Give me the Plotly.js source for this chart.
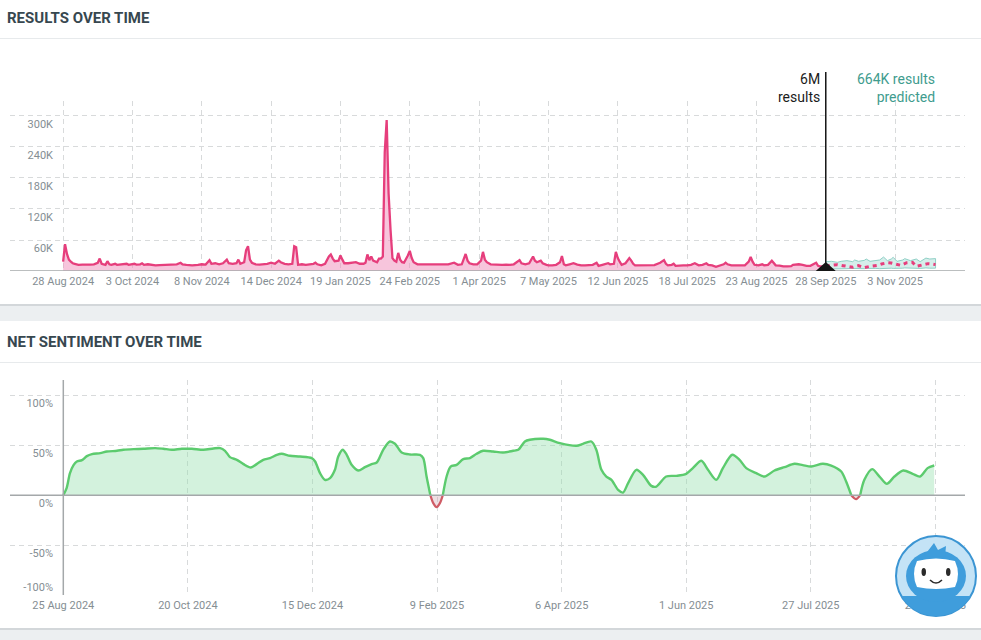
<!DOCTYPE html>
<html><head><meta charset="utf-8">
<script src="https://cdn.plot.ly/plotly-3.0.1.min.js"></script>
<style>html,body{margin:0;padding:0;background:#eceff1;} #chart{width:981px;height:640px;}</style>
</head><body><div id="chart"></div>
<script>
// ---------- DATA ----------
const resultsStart = '2024-08-28';
const resultsDays = [0,1,2,3,4,5,6,8,10,12,14,16,18,19,20,21,22,23,24,25,27,28,30,33,34,37,38,40,41,42,44,46,48,50,53,56,59,61,62,64,67,70,72,74,76,77,79,81,83,85,86,88,90,91,92,94,95,96,97,98,100,102,104,106,108,110,112,113,115,117,119,120,121,122,124,126,128,130,131,132,134,136,138,139,140,141,143,144,145,146,148,150,152,154,156,157,158,159,160,161,162,163,164,165,166,167,168,169,170,171,172,173,174,175,176,177,179,180,181,182,184,186,188,190,192,194,196,198,200,203,205,207,209,210,211,213,215,217,218,219,220,222,224,226,228,230,232,234,237,238,240,242,244,245,246,248,249,251,252,254,256,258,259,260,261,263,265,267,269,271,273,275,277,278,280,282,283,284,286,287,288,289,290,292,294,295,296,297,299,301,303,305,307,310,312,313,314,316,317,318,320,322,324,326,328,330,332,334,335,337,339,341,343,344,345,347,350,352,354,356,357,358,359,361,363,364,366,368,369,370,372,374,376,378,379,380,382,384,386,388,390,391,392,393,395,396];
const resultsK = [18,52,33,22,18,15,14,12,12.5,12,12.5,13,16,24,14,13,12,19,13,12,14,12,12.5,14,12,14,12.5,13,15,12,13,12,11,11.5,12,12.5,13,16,13,12,11,12,13,12.5,21,14,15,13,15,22,15,14,15,22,14,17,40,48,22,16,13,12.5,13,14,16,14,20,17,14,13,14,48,46,12,13,12,13,14,16,13,11,14,28,32,24,19,20,30,22,15,15,16,17,14,14,16,32,21,28,20,18,17,24,24,28,230,292,150,80,25,20,18,35,22,17,16,30,39,25,17,13,13,12.5,12,12.5,13,12.5,13,13,16,12,13,33,20,15,13,13,20,37,22,17,13,12.5,12.5,12,12.5,12,13,21,15,13,15,28,20,17,20,15,12,11,11,12,17,29,13,11,13,15,12.5,11,11,11,12,16,10,12,14,15,13,14,37,25,18,12,15,25,20,14,11,11,11,11,11,11.5,16,21,14,11,12,14,10,11,11,11,12,15,11,12,15,12,11,8,10,13,16,13,11,10.5,10.5,11,18,27,18,12,11,13,11,12,20,15,11,10.5,9,9,9.5,12,12.5,13,12,10,10,13,16,10,9,9,10];

const predBandDays = [396,399,402,404,407,410,411,413,416,417,419,422,424,426,428,430,431,433,436,437,440,443,445,448,450,453];
const predUpperK  = [18,18.7,16.8,18.7,20,18,21.3,18.7,20.6,23.2,18.7,20,21.3,27,20,23.2,26.5,18.7,21.3,23.9,20,23.2,18.1,25,23.2,24];
const predLowerK  = [3,4,5,4.5,4.5,5,5.5,5,4.5,5,5.5,5,4.5,5.5,5,5.5,5,4.5,5.5,6,5,5.5,5,6,5.5,5.5];
const predMidDays = [396,400,402,405,408,410,413,416,419,423,425,428,430,432,435,438,441,443,446,449,451,453];
const predMidK    = [10,12.3,12.3,10.3,9,7.1,10.3,6.4,9,11,13.5,16.1,15.5,13.5,11,16.1,16.8,9,11,14.2,13.5,12.3];

const resultsTickVals = [60000,120000,180000,240000,300000];
const resultsTickText = ['60K','120K','180K','240K','300K'];
const totalLabel = '6M<br>results';
const predLabel = '664K results<br>predicted';

const sentStart = '2024-08-25';
const sentDays = [0,1.5,3,4.6,6.1,8.4,10.6,12.9,16.6,19.6,24.1,27,31.6,36,41.3,45,48.8,53.3,57.8,63,67.5,70.5,72.7,74.9,78,81,84.3,86.9,89.9,92.9,96,98.2,101.9,106.4,111.7,113.2,115.4,117.6,119.9,122.1,123.6,125.6,127.4,129.6,132.6,135.6,138.6,140.9,143.8,146.8,149.1,152.1,155.8,160.3,161.8,163.3,165,166.3,167.8,169.3,170.6,172.3,174.1,176.8,179.8,182.8,185.8,188.7,193.2,197.7,202.2,204.5,207.5,209.7,215.7,218.7,223.2,230.7,233.6,237.4,239.6,241.9,244.1,246.4,249.4,251.6,253.9,257.6,260.6,264.3,266.6,271,275.6,280,283,286.8,289.8,293.5,296.5,300.7,304,307,311.5,315.2,319.7,324.2,328.7,332.4,336.2,341.4,345.2,349.7,351.9,354.2,356.4,358.2,360.1,363.6,366.9,370.2,373.6,377.6,381.8,385.1,388.5,391.5];
const sentPct = [0,7,22,30,33.6,35,39,41,42,43.6,44.3,45.3,46,46.3,47,46.3,45.3,46.3,46.3,45.3,46.6,47,44.3,38,35.3,31,27.6,31,35.3,37,40.3,41.3,39.3,38.6,37,33.6,22,15.3,17,25.3,38.6,45.3,40.3,30.3,24.6,28,31,32.6,45.3,53.6,51.3,42.6,40.6,40.3,37,18.6,0,-8,-12,-8,0,18.6,28.6,30.3,36,37,41.3,44.3,43.6,42.6,44.3,45.3,53.6,55.3,56.3,55.3,52,49.3,51.3,53.6,45.3,25.3,18.6,15.3,5.3,2.6,12,25.3,20.3,9.3,8.6,18.6,19.3,21.3,27,34.3,25.3,15.3,27,40.3,35.3,27,22,18.6,24.6,28,31.3,30,28.6,31.3,29.6,23.6,13.6,0,-4,0,15.3,26,18.6,11.3,18.6,24.6,21.3,18.6,27,29.6];
const sentTickVals = [-50,0,50,100];
const sentTickText = ['-50%','0%','50%','100%'];
const sentBottomTick = [-100];
const sentBottomText = ['-100%'];

// ---------- HELPERS ----------
const DAY = 864e5;
function toDate(start, d){ return new Date(Date.parse(start+'T00:00:00Z') + d*DAY).toISOString().slice(0,19).replace('T',' '); }
const W = 981, H = 640;
const px = x => x / W, py = y => 1 - y / H;
const P = (x,y) => px(x).toFixed(5) + ',' + py(y).toFixed(5);

const rX = resultsDays.map(d => toDate(resultsStart, d));
const rY = resultsK.map(v => v * 1000);
const bandX = predBandDays.map(d => toDate(resultsStart, d));
const bandPolyX = bandX.concat(bandX.slice().reverse());
const bandPolyY = predUpperK.map(v => v*1000).concat(predLowerK.slice().reverse().map(v => v*1000));
const midX = predMidDays.map(d => toDate(resultsStart, d));
const midY = predMidK.map(v => v*1000);

const sX = sentDays.map(d => toDate(sentStart, d));
const sPos = sentPct.map(v => v >= 0 ? v : null);
const sNeg = sentPct.map((v,i) => (v < 0 || (v === 0 && ((sentPct[i-1] < 0) || (sentPct[i+1] < 0)))) ? v : null);

const PINK = '#e63e7c', PINK_FILL = 'rgba(240,140,185,0.5)';
const GREEN = '#5ccb6e', GREEN_FILL = 'rgba(150,225,175,0.42)';
const RED = '#cf5c66', RED_FILL = 'rgba(205,160,175,0.35)';

const traces = [
  {x: rX, y: rY, type:'scatter', mode:'lines', line:{color:PINK, width:2.3}, fill:'tozeroy', fillcolor:PINK_FILL, xaxis:'x', yaxis:'y', hoverinfo:'skip'},
  {x: bandPolyX, y: bandPolyY, type:'scatter', mode:'lines', fill:'toself', fillcolor:'rgba(200,232,228,0.75)', line:{color:'#8fd0c6', width:1}, xaxis:'x', yaxis:'y', hoverinfo:'skip'},
  {x: midX, y: midY, type:'scatter', mode:'lines', line:{color:PINK, width:3, dash:'4px,4px'}, xaxis:'x', yaxis:'y', hoverinfo:'skip'},
  {x: sX, y: sPos, type:'scatter', mode:'lines', line:{color:GREEN, width:2.4, shape:'spline', smoothing:0.8}, fill:'tozeroy', fillcolor:GREEN_FILL, connectgaps:false, xaxis:'x2', yaxis:'y2', hoverinfo:'skip'},
  {x: sX, y: sNeg, type:'scatter', mode:'lines', line:{color:RED, width:2.2, shape:'spline', smoothing:0.8}, fill:'tozeroy', fillcolor:RED_FILL, connectgaps:false, xaxis:'x2', yaxis:'y2', hoverinfo:'skip'},
  {x: [sX[0]], y: [sentBottomTick[0]], type:'scatter', mode:'markers', marker:{opacity:0, size:1}, xaxis:'x2', yaxis:'y3', hoverinfo:'skip'}
];

const GRID = '#d8dadb', TICKC = '#858e93';
const tickFont = {family:'Roboto, sans-serif', size:11, color:TICKC};

// mascot geometry
const mc = {x:936, y:576, r:40};
let bodyPath = 'M ';
for (let a = 30; a <= 150; a += 6) {
  const t = a*Math.PI/180;
  bodyPath += P(mc.x + mc.r*Math.cos(t), mc.y + mc.r*Math.sin(t)) + (a < 150 ? ' L ' : '');
}
bodyPath += ' Z';

const shapes = [
  {type:'rect', xref:'paper', yref:'paper', x0:0, x1:1, y0:py(304), y1:1, fillcolor:'#ffffff', line:{width:0}, layer:'below'},
  {type:'rect', xref:'paper', yref:'paper', x0:0, x1:1, y0:py(306), y1:py(304), fillcolor:'#d3d7da', line:{width:0}, layer:'below'},
  {type:'rect', xref:'paper', yref:'paper', x0:0, x1:1, y0:py(628), y1:py(321), fillcolor:'#ffffff', line:{width:0}, layer:'below'},
  {type:'rect', xref:'paper', yref:'paper', x0:0, x1:1, y0:py(630), y1:py(628), fillcolor:'#d3d7da', line:{width:0}, layer:'below'},
  {type:'line', xref:'paper', yref:'paper', x0:0, x1:1, y0:py(38.5), y1:py(38.5), line:{color:'#e7eaec', width:1}, layer:'below'},
  {type:'line', xref:'paper', yref:'paper', x0:0, x1:1, y0:py(362.5), y1:py(362.5), line:{color:'#e7eaec', width:1}, layer:'below'},
  {type:'line', xref:'paper', yref:'y', x0:px(10), x1:px(965), y0:0, y1:0, line:{color:'#a4a8aa', width:1.5}, layer:'above'},
  {type:'line', xref:'paper', yref:'y2', x0:px(10), x1:px(965), y0:0, y1:0, line:{color:'#a4a8aa', width:1.5}, layer:'above'},
  {type:'line', xref:'x2', yref:'paper', x0:sentStart, x1:sentStart, y0:py(595), y1:py(380), line:{color:'#a4a8aa', width:1.5}, layer:'above'},
  {type:'line', xref:'x', yref:'paper', x0:toDate(resultsStart,396), x1:toDate(resultsStart,396), y0:py(271), y1:py(72), line:{color:'#151515', width:1.5}, layer:'above'},
  {type:'path', xref:'x', xsizemode:'pixel', xanchor:toDate(resultsStart,396), yref:'y', ysizemode:'pixel', yanchor:0, path:'M -10,0 L 10,0 L 0,9 Z', fillcolor:'#151515', line:{width:0}, layer:'above'},
  // mascot
  {type:'circle', xref:'paper', yref:'paper', x0:px(896), x1:px(976), y0:py(616), y1:py(536), fillcolor:'#c4e3f6', line:{color:'#3b95d3', width:2}, layer:'above'},
  {type:'path', xref:'paper', yref:'paper', path:bodyPath, fillcolor:'#3f9ddc', line:{width:0}, layer:'above'},
  {type:'circle', xref:'paper', yref:'paper', x0:px(906), x1:px(966), y0:py(602), y1:py(550), fillcolor:'#3f9ddc', line:{width:0}, layer:'above'},
  {type:'path', xref:'paper', yref:'paper', path:'M '+P(924,556)+' L '+P(934,543)+' L '+P(938,550)+' L '+P(946,546)+' L '+P(945,557)+' Z', fillcolor:'#3f9ddc', line:{width:0}, layer:'above'},
  {type:'path', xref:'paper', yref:'paper', path:'M '+P(917,561)+' Q '+P(936,556)+' '+P(955,561)+' Q '+P(961,574)+' '+P(955,587)+' Q '+P(936,591)+' '+P(917,587)+' Q '+P(911,574)+' '+P(917,561)+' Z', fillcolor:'#ffffff', line:{width:0}, layer:'above'},
  {type:'circle', xref:'paper', yref:'paper', x0:px(921.5), x1:px(926), y0:py(576), y1:py(568), fillcolor:'#2b2b2b', line:{width:0}, layer:'above'},
  {type:'circle', xref:'paper', yref:'paper', x0:px(946), x1:px(950.5), y0:py(576), y1:py(568), fillcolor:'#2b2b2b', line:{width:0}, layer:'above'},
  {type:'path', xref:'paper', yref:'paper', path:'M '+P(930,580)+' Q '+P(936,586)+' '+P(942,580), line:{color:'#2b2b2b', width:1.6}, layer:'above'}
];

const annotations = [
  {xref:'paper', yref:'paper', x:px(5), y:py(18), xanchor:'left', yanchor:'middle', showarrow:false, text:'<b>RESULTS OVER TIME</b>', font:{family:'Roboto, sans-serif', size:15, color:'#37474f'}},
  {xref:'paper', yref:'paper', x:px(5), y:py(341.5), xanchor:'left', yanchor:'middle', showarrow:false, text:'<b>NET SENTIMENT OVER TIME</b>', font:{family:'Roboto, sans-serif', size:15, color:'#37474f'}},
  {xref:'x', yref:'paper', x:toDate(resultsStart,396), xshift:-4, y:py(87.5), xanchor:'right', yanchor:'middle', align:'right', showarrow:false, text:totalLabel, font:{family:'Roboto, sans-serif', size:14, color:'#1b1b1b'}},
  {xref:'x', yref:'paper', x:toDate(resultsStart,453.7), y:py(87.5), xanchor:'right', yanchor:'middle', align:'right', showarrow:false, text:predLabel, font:{family:'Roboto, sans-serif', size:14, color:'#3f9c8e'}}
];

const layout = {
  width: W, height: H, margin:{l:0, r:0, t:0, b:0},
  paper_bgcolor:'#eceff1', plot_bgcolor:'rgba(0,0,0,0)', showlegend:false,
  font:{family:'Roboto, sans-serif'},
  xaxis:{domain:[px(10), px(965)], type:'date', range:['2024-07-31 10:00','2025-12-09 07:00'],
    tick0:resultsStart, dtick:36*DAY, tickformat:'%-d %b %Y', ticks:'', showgrid:true, gridcolor:GRID, griddash:'5px,4px', gridwidth:1,
    zeroline:false, showline:false, tickfont:tickFont, ticklabelstandoff:2, anchor:'y', fixedrange:true},
  yaxis:{domain:[py(271), py(101)], range:[0, 329000], tickvals:resultsTickVals, ticktext:resultsTickText,
    showgrid:true, gridcolor:GRID, griddash:'5px,4px', zeroline:false, showline:false, ticks:'',
    ticklabelposition:'outside bottom', ticklabelstandoff:-44, tickfont:tickFont, anchor:'x', fixedrange:true},
  xaxis2:{domain:[px(10), px(965)], type:'date', range:['2024-08-01 01:00','2025-10-04 08:00'],
    tick0:sentStart, dtick:56*DAY, tickformat:'%-d %b %Y', ticks:'', showgrid:true, gridcolor:GRID, griddash:'5px,4px',
    zeroline:false, showline:false, tickfont:tickFont, ticklabelstandoff:2, anchor:'y2', fixedrange:true},
  yaxis2:{domain:[py(595.3), py(380)], range:[-100, 115], tickvals:sentTickVals, ticktext:sentTickText,
    showgrid:true, gridcolor:GRID, griddash:'5px,4px', zeroline:false, showline:false, ticks:'',
    ticklabelposition:'outside bottom', ticklabelstandoff:-44, tickfont:tickFont, anchor:'x2', fixedrange:true},
  yaxis3:{overlaying:'y2', range:[-100, 115], tickvals:sentBottomTick, ticktext:sentBottomText,
    showgrid:true, gridcolor:GRID, griddash:'5px,4px', zeroline:false, showline:false, ticks:'',
    ticklabelposition:'outside top', ticklabelstandoff:-44, tickfont:tickFont, anchor:'x2', fixedrange:true},
  shapes: shapes, annotations: annotations
};

Plotly.newPlot('chart', traces, layout, {staticPlot:true, displayModeBar:false});
</script>
</body></html>
